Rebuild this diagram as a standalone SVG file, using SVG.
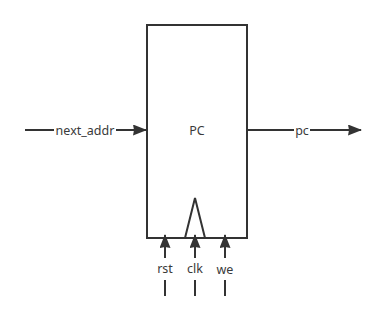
<svg xmlns="http://www.w3.org/2000/svg" width="381" height="321" viewBox="0 0 381 321">
  <defs>
    <marker id="arrow" viewBox="0 0 14 11" refX="13" refY="5.5" markerWidth="14" markerHeight="11" markerUnits="userSpaceOnUse" orient="auto">
      <path d="M0,0 L14,5.5 L0,11 L1,5.5 Z" fill="#333333"/>
    </marker>
    <style>
      .edge { stroke: #333333; stroke-width: 2; fill: none; }
      .box { stroke: #333333; stroke-width: 2; fill: #ffffff; }
      .lbl { font-family: "Noto Sans", "Liberation Sans", sans-serif; font-size: 12.5px; fill: #3a3a3a; text-anchor: middle; }
      .bg { fill: #ffffff; }
    </style>
  </defs>
  <rect width="381" height="321" fill="#ffffff"/>

  <g id="pc-register">
    <rect class="box" x="147" y="25" width="100" height="213"/>
    <text class="lbl" x="197" y="135">PC</text>
    <!-- clock edge indicator -->
    <path class="edge" d="M185,238 L195,198 L205,238"/>
  </g>

  <g id="connectors">
    <path class="edge" d="M25,130 L146,130" marker-end="url(#arrow)"/>
    <path class="edge" d="M247,130 L361,130" marker-end="url(#arrow)"/>
    <path class="edge" d="M165,296 L165,280"/>
    <path class="edge" d="M165,258 L165,235" marker-end="url(#arrow)"/>
    <path class="edge" d="M195,296 L195,280"/>
    <path class="edge" d="M195,258 L195,235" marker-end="url(#arrow)"/>
    <path class="edge" d="M225,296 L225,280"/>
    <path class="edge" d="M225,258 L225,235" marker-end="url(#arrow)"/>
  </g>

  <g id="label-next-addr">
    <rect class="bg" x="54" y="122" width="62" height="16"/>
    <text class="lbl" x="85" y="135">next_addr</text>
  </g>
  <g id="label-pc">
    <rect class="bg" x="294" y="122" width="16" height="16"/>
    <text class="lbl" x="302" y="135">pc</text>
  </g>
  <g id="label-rst">
    <text class="lbl" x="165" y="273">rst</text>
  </g>
  <g id="label-clk">
    <text class="lbl" x="195" y="273">clk</text>
  </g>
  <g id="label-we">
    <text class="lbl" x="225" y="274">we</text>
  </g>
</svg>
